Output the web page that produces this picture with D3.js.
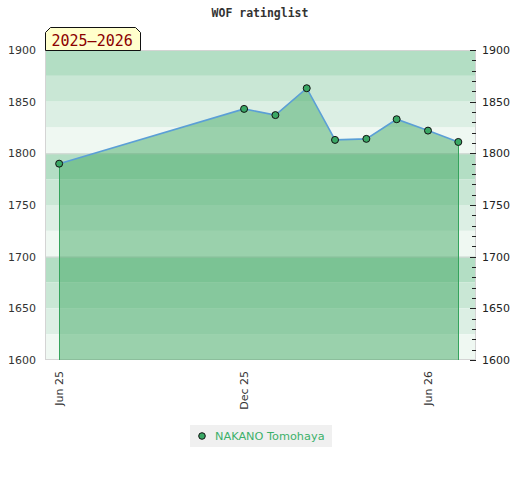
<!DOCTYPE html>
<html><head><meta charset="utf-8">
<script src="https://cdn.jsdelivr.net/npm/d3@7"></script>
<style>body{margin:0;background:#fff}svg{display:block}</style>
</head><body>
<script>
const dates = ["2025-06-01","2025-12-01","2026-01-01","2026-02-01","2026-03-01","2026-04-01","2026-05-01","2026-06-01","2026-07-01"];
const ratings = [1790, 1843, 1837, 1863, 1813, 1814, 1833, 1822, 1811];
const xTicks = ["2025-06-01","2025-12-01","2026-06-01"];
const yTicks = [1600,1650,1700,1750,1800,1850,1900];
const playerName = "NAKANO Tomohaya";
const titleText = "WOF ratinglist";
const seasonText = "2025\u20132026";

const W=520,H=480;
const parse = d3.utcParse("%Y-%m-%d");
const data = dates.map((d,i)=>({date:parse(d), v:ratings[i]}));
const svg = d3.select("body").append("svg").attr("width",W).attr("height",H);
const L=45,R=476,T=50,B=360;
const x = d3.scaleUtc().domain([Date.UTC(2025,4,18), Date.UTC(2026,6,18,12)]).range([L,R]);
const y = d3.scaleLinear().domain([1600,1900]).range([B,T]);

// bands
const bandColors=["#b3dec4","#c9e7d5","#dcefe4","#eff8f2"];
const bands=d3.range(1900,1600,-25);
svg.append("g").selectAll("rect").data(bands).join("rect")
  .attr("x",L).attr("width",R-L)
  .attr("y",d=>y(d)).attr("height",d=>y(d-25)-y(d))
  .attr("fill",(d,i)=>bandColors[i%4]);
// grid lines
svg.append("g").selectAll("line").data([1700,1800]).join("line")
  .attr("x1",L).attr("x2",R).attr("y1",d=>y(d)+0.5).attr("y2",d=>y(d)+0.5)
  .attr("stroke","#d6d6d6");
svg.append("rect").attr("x",L+0.5).attr("y",T+0.5).attr("width",R-L-1).attr("height",B-T-1)
  .attr("fill","none").attr("stroke","#d4d4d4");

// area
const area=d3.area().x(d=>x(d.date)).y0(B).y1(d=>y(d.v));
svg.append("path").datum(data).attr("d",area).attr("fill","rgb(59,166,93)").attr("fill-opacity",0.47);
// drop lines
const ends=[data[0],data[data.length-1]];
svg.append("g").selectAll("line").data(ends).join("line")
  .attr("x1",d=>Math.round(x(d.date))+0.5).attr("x2",d=>Math.round(x(d.date))+0.5)
  .attr("y1",d=>y(d.v)).attr("y2",B)
  .attr("stroke","#35a35c").attr("stroke-width",1);
// line
svg.append("path").datum(data).attr("d",d3.line().x(d=>x(d.date)).y(d=>y(d.v)))
  .attr("fill","none").attr("stroke","#5b9fd6").attr("stroke-width",1.6);
// markers
svg.append("g").selectAll("circle").data(data).join("circle")
  .attr("cx",d=>x(d.date)).attr("cy",d=>y(d.v)).attr("r",3.5)
  .attr("fill","#3aa865").attr("stroke","#111").attr("stroke-width",1);

// left axis labels
svg.append("g").selectAll("text").data(yTicks).join("text")
  .attr("x",36).attr("y",d=>y(d)+4).attr("text-anchor","end")
  .attr("font-family","DejaVu Sans").attr("font-size",11).attr("fill","#333")
  .text(d=>d);
// right axis
const rAxis = svg.append("g");
rAxis.selectAll("line").data(d3.range(1600,1901,10)).join("line")
  .attr("x1",d=>d%50===0?470:472).attr("x2",476)
  .attr("y1",d=>Math.round(y(d))+0.5).attr("y2",d=>Math.round(y(d))+0.5)
  .attr("stroke","#222");
rAxis.selectAll("text").data(yTicks).join("text")
  .attr("x",482).attr("y",d=>y(d)+4)
  .attr("font-family","DejaVu Sans").attr("font-size",11).attr("fill","#222")
  .text(d=>d);
// x labels
const fmt=d3.utcFormat("%b %y");
svg.append("g").selectAll("text").data(xTicks.map(parse)).join("text")
  .attr("transform",d=>`translate(${x(d)+4},371) rotate(-90)`)
  .attr("text-anchor","end")
  .attr("font-family","DejaVu Sans").attr("font-size",11).attr("fill","#333")
  .text(d=>fmt(d));

// title
svg.append("text").attr("x",260).attr("y",17).attr("text-anchor","middle")
  .attr("font-family","DejaVu Sans Mono").attr("font-weight","bold").attr("font-size",11.5)
  .attr("fill","#333").text(titleText);

// season label
svg.append("path").attr("d","M45.5,50.5 L45.5,32.5 L50.5,27.5 L135.5,27.5 L140.5,32.5 L140.5,50.5 Z")
  .attr("fill","#ffffcc").attr("stroke","#111").attr("stroke-width",1);
svg.append("text").attr("x",51.5).attr("y",45.5)
  .attr("font-family","DejaVu Sans Mono").attr("font-size",15).attr("fill","#8b0000")
  .text(seasonText);

// legend
svg.append("rect").attr("x",190).attr("y",425).attr("width",142).attr("height",22).attr("fill","#f0f0f0");
svg.append("circle").attr("cx",202).attr("cy",436).attr("r",3.3).attr("fill","#3aa865").attr("stroke","#111");
svg.append("text").attr("x",215).attr("y",440)
  .attr("font-family","DejaVu Sans").attr("font-size",11.3).attr("fill","#3cb06a").text(playerName);
</script>
</body></html>
